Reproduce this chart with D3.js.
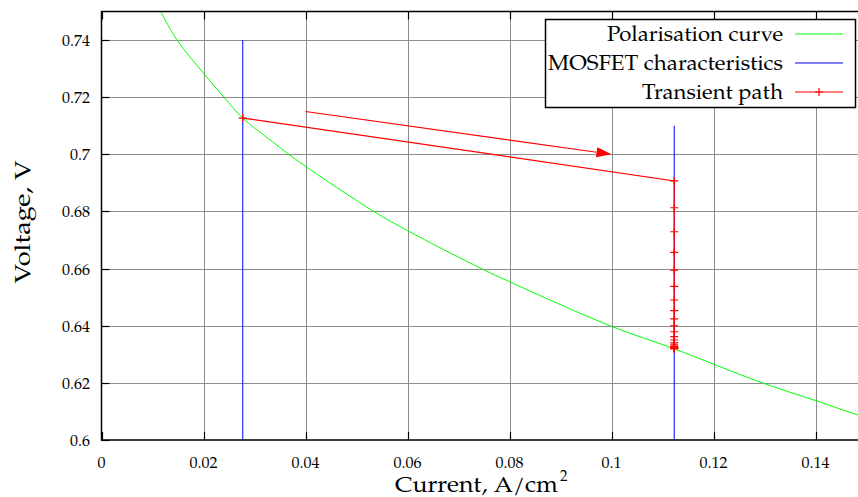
<!DOCTYPE html>
<html>
<head>
<meta charset="utf-8">
<script src="https://cdn.jsdelivr.net/npm/d3@7"></script>
<style>
  body { margin: 0; background: #fff; }
</style>
</head>
<body>
<svg id="chart" width="858" height="497" font-family="'TeX Gyre Pagella', 'Liberation Serif', serif"></svg>
<script>
// polarisation curve
var polCurrent = [0.0116, 0.0148, 0.0200, 0.0240, 0.0277, 0.0328, 0.0389, 0.0534, 0.0600, 0.0745, 0.0800, 0.0997, 0.1123, 0.1291, 0.1400, 0.1483, 0.1500];
var polVoltage = [0.7500, 0.7400, 0.7284, 0.7200, 0.7127, 0.7054, 0.6972, 0.6800, 0.6733, 0.6600, 0.6554, 0.6400, 0.6319, 0.6203, 0.6138, 0.6088, 0.6080];

// MOSFET characteristics: two vertical lines
var mosCurrent = [0.0277, 0.1123];
var mosTop = [0.74, 0.71];
var mosBottom = 0.6;

// transient path
var transCurrent = [0.0277, 0.1123, 0.1123, 0.1123, 0.1123, 0.1123, 0.1123, 0.1123, 0.1123, 0.1123, 0.1123, 0.1123, 0.1123, 0.1123, 0.1123, 0.1123, 0.1123, 0.1123, 0.1123, 0.1123, 0.1123, 0.1123, 0.1123];
var transVoltage = [0.7127, 0.6907, 0.6813, 0.6729, 0.6657, 0.6595, 0.6538, 0.6490, 0.6453, 0.6424, 0.6400, 0.6379, 0.6362, 0.6350, 0.6340, 0.6333, 0.6328, 0.6325, 0.6323, 0.6322, 0.6321, 0.6320, 0.6320];

// arrow annotation
var arrowFrom = [0.04, 0.715];
var arrowTo = [0.1, 0.70];

var xTicks = [0, 0.02, 0.04, 0.06, 0.08, 0.1, 0.12, 0.14];
var yTicks = [0.6, 0.62, 0.64, 0.66, 0.68, 0.7, 0.72, 0.74];

var legendLabels = ['Polarisation curve', 'MOSFET characteristics', 'Transient path'];
var legendColors = ['#00ff00', '#0000ff', '#ff0000'];

var svg = d3.select('#chart');

var x = d3.scaleLinear().domain([0, 0.15]).range([101.5, 866.5]);
var y = d3.scaleLinear().domain([0.6, 0.75]).range([440, 11.5]);

var fmt = function (d) { return d === 0 ? '0' : String(+d.toFixed(2)); };

// grid
var grid = svg.append('g').attr('stroke', '#8c8c8c').attr('stroke-width', 1);
grid.selectAll('.vg').data(xTicks.filter(function (d) { return d > 0; })).enter()
    .append('line')
        .attr('x1', function (d) { return Math.round(x(d)) + 0.5; })
        .attr('x2', function (d) { return Math.round(x(d)) + 0.5; })
        .attr('y1', y(0.75))
        .attr('y2', y(0.6));
grid.selectAll('.hg').data(yTicks.filter(function (d) { return d > 0.6; })).enter()
    .append('line')
        .attr('x1', x(0))
        .attr('x2', x(0.15))
        .attr('y1', function (d) { return Math.round(y(d)) + 0.5; })
        .attr('y2', function (d) { return Math.round(y(d)) + 0.5; });

// ticks, inward, on all sides
var ticks = svg.append('g').attr('stroke', '#000').attr('stroke-width', 1.2);
xTicks.forEach(function (d) {
    var px = Math.round(x(d)) + 0.5;
    ticks.append('line').attr('x1', px).attr('x2', px).attr('y1', y(0.6)).attr('y2', y(0.6) - 8);
    ticks.append('line').attr('x1', px).attr('x2', px).attr('y1', y(0.75)).attr('y2', y(0.75) + 8);
});
yTicks.forEach(function (d) {
    var py = Math.round(y(d)) + 0.5;
    ticks.append('line').attr('x1', x(0)).attr('x2', x(0) + 8).attr('y1', py).attr('y2', py);
});

// tick labels
svg.append('g').selectAll('text').data(xTicks).enter()
    .append('text')
        .attr('x', function (d) { return x(d); })
        .attr('y', 468)
        .attr('text-anchor', 'middle')
        .attr('font-size', 16)
        .text(fmt);
svg.append('g').selectAll('text').data(yTicks).enter()
    .append('text')
        .attr('x', 90)
        .attr('y', function (d) { return y(d) + 6; })
        .attr('text-anchor', 'end')
        .attr('font-size', 16)
        .text(fmt);

// axis titles
svg.append('text')
    .attr('transform', 'translate(30,222) rotate(-90)')
    .attr('text-anchor', 'middle')
    .attr('font-size', 22)
    .attr('textLength', 123)
    .attr('lengthAdjust', 'spacingAndGlyphs')
    .text('Voltage, V');
svg.append('text')
    .attr('x', 395)
    .attr('y', 492)
    .attr('font-size', 22)
    .attr('textLength', 163)
    .attr('lengthAdjust', 'spacingAndGlyphs')
    .text('Current, A/cm');
svg.append('text')
    .attr('x', 560)
    .attr('y', 481)
    .attr('font-size', 15)
    .text('2');

// curves
var line = d3.line()
    .x(function (d) { return x(d[0]); })
    .y(function (d) { return y(d[1]); });

var polData = polCurrent.map(function (c, i) { return [c, polVoltage[i]]; });
svg.append('path')
    .datum(polData)
    .attr('fill', 'none')
    .attr('stroke', '#00ff00')
    .attr('stroke-width', 1)
    .attr('d', line.curve(d3.curveCatmullRom.alpha(0.5)));

mosCurrent.forEach(function (c, i) {
    svg.append('line')
        .attr('x1', x(c)).attr('x2', x(c))
        .attr('y1', y(mosTop[i])).attr('y2', y(mosBottom))
        .attr('stroke', '#0000ff')
        .attr('stroke-width', 1);
});

var transData = transCurrent.map(function (c, i) { return [c, transVoltage[i]]; });
svg.append('path')
    .datum(transData)
    .attr('fill', 'none')
    .attr('stroke', '#ff0000')
    .attr('stroke-width', 1.2)
    .attr('d', d3.line()
        .x(function (d) { return x(d[0]); })
        .y(function (d) { return y(d[1]); })(transData));

var plus = function (g, px, py, s) {
    g.append('path')
        .attr('d', 'M' + (px - s) + ',' + py + 'H' + (px + s) + 'M' + px + ',' + (py - s) + 'V' + (py + s))
        .attr('stroke', '#ff0000')
        .attr('stroke-width', 1.2)
        .attr('fill', 'none');
};
var marks = svg.append('g');
transData.forEach(function (d) { plus(marks, x(d[0]), y(d[1]), 4); });

// arrow
var ax1 = x(arrowFrom[0]), ay1 = y(arrowFrom[1]);
var ax2 = x(arrowTo[0]), ay2 = y(arrowTo[1]);
var ang = Math.atan2(ay2 - ay1, ax2 - ax1);
var hl = 15, hw = 5;
var bx = ax2 - hl * Math.cos(ang), by = ay2 - hl * Math.sin(ang);
svg.append('line')
    .attr('x1', ax1).attr('y1', ay1)
    .attr('x2', bx).attr('y2', by)
    .attr('stroke', '#ff0000')
    .attr('stroke-width', 1.2);
svg.append('path')
    .attr('d', 'M' + ax2 + ',' + ay2 +
        'L' + (bx + hw * Math.sin(ang)) + ',' + (by - hw * Math.cos(ang)) +
        'L' + (bx - hw * Math.sin(ang)) + ',' + (by + hw * Math.cos(ang)) + 'Z')
    .attr('fill', '#ff0000');

// frame
svg.append('path')
    .attr('d', 'M' + x(0.15) + ',' + y(0.75) + 'H' + x(0) + 'V' + y(0.6) + 'H' + x(0.15))
    .attr('fill', 'none')
    .attr('stroke', '#000')
    .attr('stroke-width', 1.5);

// legend
var legend = svg.append('g');
legend.append('rect')
    .attr('x', 545.5).attr('y', 19.5)
    .attr('width', 310).attr('height', 88)
    .attr('fill', '#fff')
    .attr('stroke', '#000')
    .attr('stroke-width', 1.5);
var legendWidths = [176, 235, 141];
legendLabels.forEach(function (lab, i) {
    var ly = 34 + i * 29;
    legend.append('text')
        .attr('x', 783)
        .attr('y', ly + 7)
        .attr('text-anchor', 'end')
        .attr('font-size', 21)
        .attr('textLength', legendWidths[i])
        .attr('lengthAdjust', 'spacingAndGlyphs')
        .text(lab);
    legend.append('line')
        .attr('x1', 795).attr('x2', 843)
        .attr('y1', ly).attr('y2', ly)
        .attr('stroke', legendColors[i])
        .attr('stroke-width', 1.2);
    if (i === 2) plus(legend, 819, ly, 4);
});
</script>
</body>
</html>
